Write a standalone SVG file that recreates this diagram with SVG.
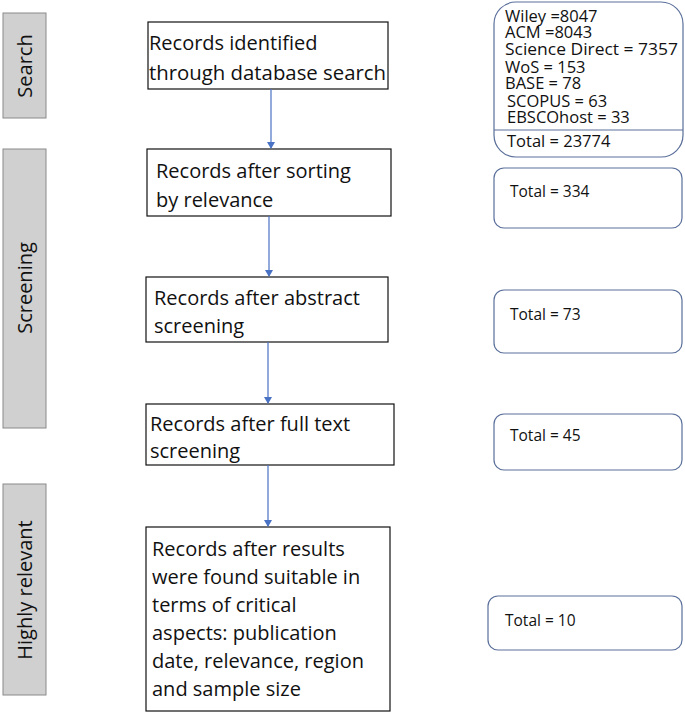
<svg xmlns="http://www.w3.org/2000/svg" width="685" height="715" viewBox="0 0 685 715">
<style>
text{font-family:"Open Sans","Liberation Sans",sans-serif;fill:#111}
.m{font-size:20px}
.s{font-size:16.5px}
.t{font-size:15.5px}
.bar{fill:#d0d0d0;stroke:#8a8a8a;stroke-width:1}
.box{fill:#fff;stroke:#111;stroke-width:1.2}
.rb{fill:#fff;stroke:#5a6f9a;stroke-width:1.2}
.c{stroke:#4a72c4;stroke-width:1.2;fill:none;marker-end:url(#a)}
</style>
<defs><marker id="a" markerWidth="8" markerHeight="8" refX="6" refY="4" orient="auto" markerUnits="userSpaceOnUse"><path d="M0,0 L7,4 L0,8z" fill="#4a72c4"/></marker></defs>
<rect width="685" height="715" fill="#fff"/>
<g id="stage-search"><rect class="bar" x="3" y="13" width="43" height="105"/><text class="m" transform="translate(32,66) rotate(-90)" text-anchor="middle">Search</text></g>
<g id="stage-screening"><rect class="bar" x="3" y="149" width="43" height="279"/><text class="m" transform="translate(32,288) rotate(-90)" text-anchor="middle">Screening</text></g>
<g id="stage-high"><rect class="bar" x="3" y="484" width="43" height="211"/><text class="m" transform="translate(32,590) rotate(-90)" text-anchor="middle">Highly relevant</text></g>
<g id="n1"><rect class="box" x="148" y="22" width="240" height="67"/><text class="m" x="149" y="50">Records identified</text><text class="m" x="149" y="80" textLength="237" lengthAdjust="spacingAndGlyphs">through database search</text></g>
<g id="n2"><rect class="box" x="147" y="149" width="244" height="67"/><text class="m" x="156" y="178">Records after sorting</text><text class="m" x="156" y="207">by relevance</text></g>
<g id="n3"><rect class="box" x="146" y="277" width="242" height="65"/><text class="m" x="154" y="305">Records after abstract</text><text class="m" x="154" y="333">screening</text></g>
<g id="n4"><rect class="box" x="146" y="404" width="248" height="61"/><text class="m" x="150" y="431">Records after full text</text><text class="m" x="150" y="458">screening</text></g>
<g id="n5"><rect class="box" x="146" y="527" width="244" height="184"/>
<text class="m" x="152" y="556">Records after results</text><text class="m" x="152" y="584">were found suitable in</text><text class="m" x="152" y="612">terms of critical</text><text class="m" x="152" y="640">aspects: publication</text><text class="m" x="152" y="668">date, relevance, region</text><text class="m" x="152" y="696">and sample size</text></g>
<g id="r1"><rect class="rb" x="494" y="2" width="189" height="155" rx="22"/><line x1="494" y1="130" x2="683" y2="130" stroke="#5a6f9a" stroke-width="1.2"/>
<text class="s" x="505" y="22">Wiley =8047</text><text class="s" x="505" y="38">ACM =8043</text><text class="s" x="505" y="55" textLength="173" lengthAdjust="spacingAndGlyphs">Science Direct = 7357</text><text class="s" x="505" y="73">WoS = 153</text><text class="s" x="505" y="89">BASE = 78</text><text class="s" x="507" y="107">SCOPUS = 63</text><text class="s" x="507" y="123">EBSCOhost = 33</text><text class="s" x="507" y="147">Total = 23774</text></g>
<g id="r2"><rect class="rb" x="494" y="168" width="188" height="60" rx="10"/><text class="t" x="510" y="197">Total = 334</text></g>
<g id="r3"><rect class="rb" x="494" y="290" width="188" height="63" rx="10"/><text class="t" x="510" y="320">Total = 73</text></g>
<g id="r4"><rect class="rb" x="494" y="414" width="188" height="56" rx="10"/><text class="t" x="510" y="441">Total = 45</text></g>
<g id="r5"><rect class="rb" x="488" y="596" width="194" height="54" rx="10"/><text class="t" x="505" y="626">Total = 10</text></g>
<g id="connectors">
<line class="c" x1="271" y1="89" x2="271" y2="148"/>
<line class="c" x1="269" y1="216" x2="269" y2="276"/>
<line class="c" x1="268" y1="342" x2="268" y2="403"/>
<line class="c" x1="268" y1="465" x2="268" y2="526"/>
</g>
</svg>
